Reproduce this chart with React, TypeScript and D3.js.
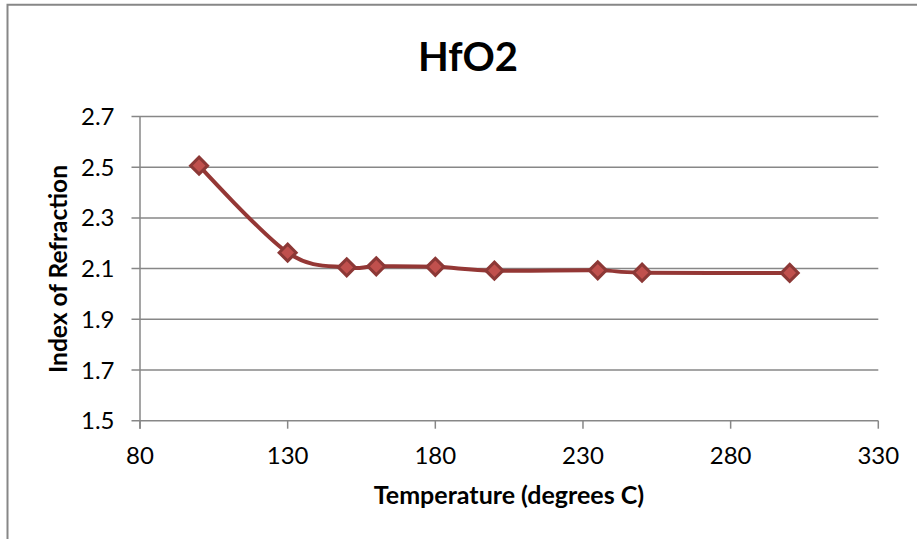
import React from "react";
import * as d3 from "d3";

// Refractive index of HfO2 films vs. deposition temperature
const temperatures = [100, 130, 150, 160, 180, 200, 235, 250, 300];
const refractiveIndex = [2.506, 2.163, 2.105, 2.109, 2.107, 2.092, 2.093, 2.084, 2.083];

const xTicks = [80, 130, 180, 230, 280, 330];
const yTicks = [1.5, 1.7, 1.9, 2.1, 2.3, 2.5, 2.7];

const W = 917;
const H = 539;
const FONT = "Lato, 'Open Sans', sans-serif";
const GRID = "#878787";

export default function App() {
  const x = d3.scaleLinear().domain([80, 330]).range([140, 878.3]);
  const y = d3.scaleLinear().domain([1.5, 2.7]).range([420.7, 116.5]);

  const points: [number, number][] = temperatures.map((t, i) => [x(t), y(refractiveIndex[i])]);
  const line = d3.line().curve(d3.curveCardinal.tension(0))(points) || "";

  const r = 8.5;
  const diamond = (cx: number, cy: number) =>
    `M${cx},${cy - r}L${cx + r},${cy}L${cx},${cy + r}L${cx - r},${cy}Z`;

  const x0 = x(80);
  const x1 = x(330);
  const yBase = y(1.5);

  return (
    <svg
      width={W}
      height={H}
      style={{ position: "fixed", left: 0, top: 0, background: "#fff" }}
      fontFamily={FONT}
    >
      {/* chart frame */}
      <path d={`M7.5,${H + 2}V4.8H${W + 2}`} fill="none" stroke={GRID} strokeWidth={2} />

      <text x={468} y={70.5} textAnchor="middle" fontSize={40} fontWeight={700} fill="#000">
        HfO2
      </text>

      {/* horizontal gridlines with left ticks */}
      {yTicks.map((v) => (
        <line
          key={`g${v}`}
          x1={x0 - 8.5}
          x2={x1}
          y1={y(v)}
          y2={y(v)}
          stroke={GRID}
          strokeWidth={1.5}
        />
      ))}
      {/* vertical axis */}
      <line x1={x0} x2={x0} y1={y(2.7)} y2={yBase + 8} stroke={GRID} strokeWidth={1.5} />
      {/* x-axis ticks */}
      {xTicks.map((v) => (
        <line key={`t${v}`} x1={x(v)} x2={x(v)} y1={yBase} y2={yBase + 8} stroke={GRID} strokeWidth={1.5} />
      ))}

      {/* tick labels */}
      {yTicks.map((v) => (
        <text key={`yl${v}`} x={114.5} y={y(v) + 8.5} textAnchor="end" fontSize={24} fill="#000">
          {v.toFixed(1)}
        </text>
      ))}
      {xTicks.map((v) => (
        <text key={`xl${v}`} x={x(v)} y={463.5} textAnchor="middle" fontSize={24} fill="#000">
          {v}
        </text>
      ))}

      {/* axis titles */}
      <text x={509} y={504} textAnchor="middle" fontSize={25} fontWeight={700} fill="#000">
        Temperature (degrees C)
      </text>
      <text
        transform="translate(67,269) rotate(-90)"
        textAnchor="middle"
        fontSize={24.5}
        fontWeight={700}
        fill="#000"
      >
        Index of Refraction
      </text>

      {/* series */}
      <path d={line} fill="none" stroke="#943735" strokeWidth={4} strokeLinejoin="round" />
      {points.map(([cx, cy], i) => (
        <path
          key={`m${i}`}
          d={diamond(cx, cy)}
          fill="#C0504D"
          stroke="#8C3836"
          strokeWidth={3}
          strokeLinejoin="miter"
        />
      ))}
    </svg>
  );
}
